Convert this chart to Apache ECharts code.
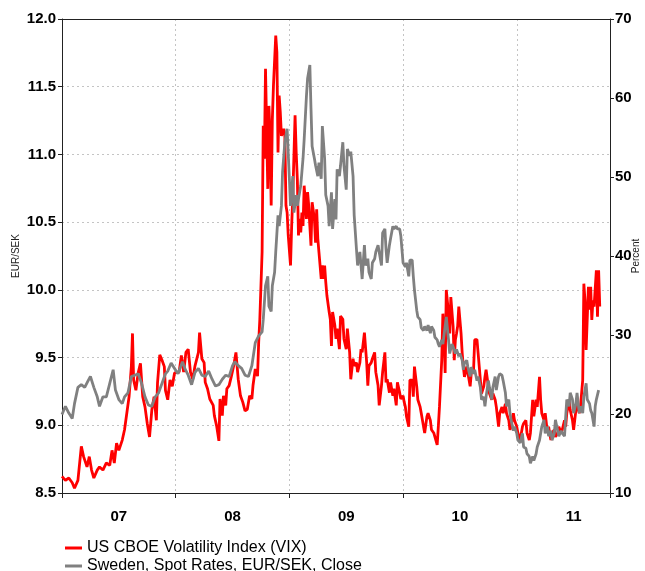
<!DOCTYPE html>
<html>
<head>
<meta charset="utf-8">
<script src="https://cdn.jsdelivr.net/npm/echarts@6/dist/echarts.min.js"></script>
<style>
html,body{margin:0;padding:0;background:#fff;overflow:hidden;}
#chart{width:645px;height:571px;}
</style>
</head>
<body>
<div id="chart"></div>
<script>
// EUR/SEK close (left axis), dates in decimal years
var sekDates = [2007.00,2007.03,2007.06,2007.09,2007.11,2007.14,2007.17,2007.20,2007.23,2007.25,2007.28,2007.31,2007.33,2007.36,2007.39,2007.42,2007.45,2007.47,2007.50,2007.53,2007.55,2007.58,2007.61,2007.64,2007.67,2007.70,2007.73,2007.76,2007.79,2007.82,2007.85,2007.88,2007.91,2007.93,2007.96,2007.99,
2008.02,2008.06,2008.08,2008.11,2008.14,2008.17,2008.20,2008.23,2008.26,2008.29,2008.32,2008.35,2008.38,2008.41,2008.44,2008.47,2008.50,2008.52,2008.55,2008.58,2008.61,2008.64,2008.67,2008.70,2008.73,2008.76,2008.77,2008.79,2008.81,2008.82,2008.84,2008.85,2008.87,2008.88,2008.90,2008.91,2008.93,2008.94,2008.96,2008.98,
2009.00,2009.01,2009.03,2009.04,2009.06,2009.07,2009.09,2009.10,2009.12,2009.13,2009.15,2009.16,2009.18,2009.19,2009.20,2009.22,2009.23,2009.25,2009.26,2009.28,2009.29,2009.31,2009.32,2009.34,2009.35,2009.37,2009.38,2009.40,2009.41,2009.42,2009.44,2009.45,2009.47,2009.48,2009.50,2009.51,2009.53,2009.54,2009.56,2009.57,2009.59,2009.60,2009.62,2009.63,2009.64,2009.66,2009.67,2009.69,2009.70,2009.72,2009.73,2009.75,2009.76,2009.78,2009.79,2009.81,2009.82,2009.84,2009.85,2009.86,2009.88,2009.89,2009.91,2009.92,2009.94,2009.95,2009.97,2009.98,
2010.00,2010.02,2010.03,2010.05,2010.06,2010.08,2010.09,2010.10,2010.12,2010.13,2010.15,2010.16,2010.18,2010.19,2010.21,2010.22,2010.24,2010.25,2010.27,2010.28,2010.30,2010.31,2010.32,2010.34,2010.35,2010.37,2010.38,2010.40,2010.41,2010.43,2010.44,2010.46,2010.47,2010.49,2010.50,2010.52,2010.53,2010.54,2010.56,2010.57,2010.59,2010.60,2010.62,2010.63,2010.65,2010.66,2010.68,2010.69,2010.71,2010.72,2010.73,2010.75,2010.76,2010.78,2010.79,2010.81,2010.82,2010.84,2010.85,2010.87,2010.88,2010.90,2010.91,2010.93,2010.94,2010.95,2010.97,2010.98,
2011.00,2011.01,2011.03,2011.05,2011.06,2011.08,2011.09,2011.11,2011.12,2011.14,2011.15,2011.17,2011.18,2011.20,2011.21,2011.22,2011.24,2011.25,2011.27,2011.28,2011.30,2011.31,2011.33,2011.34,2011.36,2011.37,2011.39,2011.40,2011.42,2011.43,2011.44,2011.46,2011.47,2011.49,2011.50,2011.52,2011.53,2011.55,2011.56,2011.58,2011.59,2011.61,2011.62,2011.64,2011.65,2011.66,2011.68,2011.69,2011.70,2011.72];
var sekValues = [9.08,9.14,9.09,9.05,9.16,9.28,9.30,9.28,9.33,9.36,9.28,9.21,9.14,9.21,9.21,9.31,9.41,9.26,9.19,9.16,9.21,9.24,9.36,9.37,9.38,9.31,9.21,9.15,9.14,9.21,9.24,9.31,9.38,9.40,9.46,9.42,
9.38,9.47,9.42,9.37,9.30,9.39,9.42,9.37,9.36,9.40,9.34,9.29,9.30,9.34,9.37,9.36,9.44,9.47,9.44,9.42,9.37,9.36,9.44,9.61,9.66,9.69,9.78,10.03,10.10,9.88,9.84,10.03,10.13,10.28,10.55,10.47,10.62,10.87,11.09,11.19,
10.82,10.62,10.84,10.57,10.70,10.62,10.72,10.77,10.97,11.11,11.43,11.56,11.66,11.34,11.06,10.97,10.92,10.84,10.94,10.82,11.21,10.97,10.70,10.62,10.47,10.72,10.45,10.67,10.52,10.89,10.84,10.92,11.09,10.92,10.74,11.04,10.99,11.02,10.84,10.55,10.30,10.18,10.28,10.18,10.08,10.33,10.18,10.23,10.13,10.08,10.20,10.23,10.28,10.33,10.28,10.18,10.42,10.45,10.30,10.20,10.33,10.38,10.47,10.45,10.47,10.45,10.45,10.40,
10.20,10.17,10.20,10.10,10.22,10.22,10.10,10.00,9.85,9.80,9.78,9.72,9.70,9.73,9.70,9.74,9.68,9.73,9.70,9.65,9.63,9.60,9.58,9.63,9.60,9.73,9.80,9.63,9.53,9.60,9.58,9.53,9.56,9.51,9.53,9.48,9.41,9.46,9.48,9.43,9.36,9.43,9.38,9.41,9.33,9.36,9.28,9.19,9.21,9.14,9.21,9.33,9.28,9.19,9.28,9.36,9.26,9.36,9.38,9.37,9.33,9.24,9.14,9.19,9.09,9.04,8.96,8.99,
8.94,8.89,8.87,8.94,8.84,8.83,8.79,8.77,8.72,8.77,8.74,8.79,8.84,8.89,8.94,8.99,9.04,8.94,8.99,8.92,8.96,8.89,8.94,9.04,8.96,8.92,8.96,8.94,8.92,9.06,9.19,9.14,9.24,9.19,9.09,9.16,9.24,9.09,9.14,9.09,9.21,9.31,9.19,9.16,9.11,9.09,8.99,9.14,9.19,9.26];

// US CBOE Volatility Index (right axis, percent)
var vixDates = [2007.00,2007.03,2007.06,2007.09,2007.11,2007.14,2007.17,2007.19,2007.22,2007.24,2007.26,2007.28,2007.31,2007.33,2007.36,2007.39,2007.42,2007.44,2007.46,2007.48,2007.50,2007.53,2007.55,2007.57,2007.59,2007.61,2007.62,2007.63,2007.65,2007.67,2007.69,2007.71,2007.73,2007.75,2007.77,2007.79,2007.81,2007.83,2007.84,2007.86,2007.88,2007.90,2007.91,2007.93,2007.95,2007.97,2007.99,
2008.03,2008.05,2008.07,2008.09,2008.11,2008.13,2008.15,2008.17,2008.20,2008.21,2008.23,2008.25,2008.26,2008.28,2008.30,2008.33,2008.34,2008.36,2008.38,2008.39,2008.41,2008.42,2008.44,2008.45,2008.47,2008.49,2008.51,2008.53,2008.55,2008.57,2008.59,2008.61,2008.63,2008.65,2008.67,2008.68,2008.70,2008.72,2008.73,2008.74,2008.76,2008.77,2008.78,2008.79,2008.80,2008.81,2008.82,2008.83,2008.84,2008.85,2008.86,2008.88,2008.89,2008.90,2008.91,2008.92,2008.93,2008.95,2008.96,2008.97,2008.98,2008.99,
2009.01,2009.02,2009.03,2009.05,2009.06,2009.07,2009.08,2009.09,2009.10,2009.11,2009.12,2009.13,2009.15,2009.16,2009.17,2009.18,2009.19,2009.20,2009.22,2009.23,2009.24,2009.25,2009.26,2009.28,2009.29,2009.30,2009.31,2009.32,2009.33,2009.35,2009.36,2009.37,2009.38,2009.40,2009.41,2009.42,2009.44,2009.45,2009.47,2009.48,2009.50,2009.51,2009.53,2009.54,2009.56,2009.57,2009.59,2009.60,2009.62,2009.63,2009.64,2009.66,2009.68,2009.69,2009.70,2009.72,2009.73,2009.75,2009.76,2009.78,2009.79,2009.81,2009.82,2009.84,2009.85,2009.86,2009.88,2009.89,2009.91,2009.92,2009.94,2009.95,2009.97,2009.98,
2010.00,2010.01,2010.02,2010.03,2010.05,2010.06,2010.08,2010.09,2010.10,2010.12,2010.13,2010.15,2010.16,2010.18,2010.19,2010.21,2010.22,2010.24,2010.25,2010.27,2010.28,2010.30,2010.31,2010.32,2010.34,2010.35,2010.36,2010.37,2010.38,2010.40,2010.41,2010.42,2010.44,2010.45,2010.46,2010.47,2010.48,2010.49,2010.51,2010.52,2010.53,2010.54,2010.56,2010.57,2010.59,2010.60,2010.62,2010.63,2010.65,2010.66,2010.68,2010.69,2010.71,2010.72,2010.73,2010.75,2010.76,2010.78,2010.79,2010.81,2010.82,2010.84,2010.85,2010.87,2010.88,2010.90,2010.91,2010.93,2010.94,2010.95,2010.97,2010.98,
2011.00,2011.01,2011.03,2011.05,2011.06,2011.08,2011.09,2011.11,2011.12,2011.14,2011.15,2011.17,2011.18,2011.20,2011.21,2011.22,2011.24,2011.25,2011.27,2011.28,2011.30,2011.31,2011.33,2011.34,2011.36,2011.37,2011.39,2011.40,2011.42,2011.43,2011.44,2011.46,2011.47,2011.49,2011.50,2011.52,2011.53,2011.55,2011.56,2011.58,2011.585,2011.59,2011.60,2011.61,2011.63,2011.64,2011.65,2011.66,2011.67,2011.68,2011.70,2011.71,2011.72,2011.73];
var vixValues = [12.1,11.6,11.9,11.3,10.6,11.6,15.9,14.6,13.3,14.6,12.9,11.9,12.9,13.3,12.9,13.8,13.5,15.4,13.8,16.3,15.4,16.7,18.0,20.1,22.2,26.0,30.2,24.3,23.0,25.2,26.4,22.2,20.9,18.8,17.1,20.5,22.2,19.2,23.9,27.5,26.8,26.0,23.0,21.8,24.3,23.5,25.2,
25.3,27.4,25.3,27.8,28.2,25.3,24.4,26.1,27.8,30.3,27.0,26.5,24.0,23.2,21.9,21.1,19.8,18.5,16.6,21.9,19.8,22.3,21.1,23.2,23.6,24.8,26.1,27.8,24.4,22.3,21.5,20.4,20.6,22.3,21.9,23.6,25.7,24.8,29.1,32.0,40.5,56.5,52.3,63.7,56.1,48.5,59.0,55.2,46.4,57.3,61.6,67.9,65.8,53.1,60.3,58.2,55.2,56.1,55.2,46.4,45.5,42.6,
38.8,43.8,47.6,57.8,53.1,49.7,42.6,44.7,43.0,45.5,43.8,48.9,44.7,48.1,46.4,43.8,41.3,46.8,44.7,41.7,45.9,42.2,40.5,37.1,38.8,37.1,38.8,36.7,35.0,32.9,32.0,28.6,32.9,31.2,29.5,30.8,28.2,32.4,32.0,29.5,28.2,30.8,27.8,24.4,27.0,26.1,26.5,25.3,26.5,28.2,27.8,30.3,26.5,23.6,26.1,26.5,27.0,27.8,25.3,23.6,21.1,23.6,25.3,27.8,24.0,24.4,22.7,24.0,22.3,23.2,21.1,24.0,22.7,21.9,
22.3,21.5,20.9,19.7,18.4,24.3,24.3,22.2,26.0,23.5,21.8,20.9,20.1,18.4,17.6,19.7,20.1,19.2,18.0,17.6,17.1,16.1,18.4,20.9,26.8,32.7,30.2,25.2,35.7,32.7,30.2,34.8,31.1,26.8,29.4,30.2,31.1,33.6,30.2,27.7,26.0,24.7,26.0,25.2,23.5,25.2,25.6,29.4,29.4,27.7,24.3,22.6,23.5,24.7,25.6,23.5,22.6,21.8,22.6,21.8,20.9,18.4,20.1,20.9,20.1,21.3,20.1,19.2,18.0,18.4,20.1,19.2,
18.4,17.6,16.7,18.4,18.8,19.2,17.6,16.7,17.6,21.8,19.7,21.8,20.9,24.7,21.8,20.1,19.2,20.1,17.6,18.4,16.7,17.6,18.0,17.1,17.6,18.4,17.6,18.0,19.2,18.4,20.1,21.8,20.5,19.2,18.0,20.5,21.3,20.1,20.9,24.3,30.2,36.5,34.4,28.1,36.1,33.2,36.1,31.9,34.4,33.6,38.2,32.3,38.2,33.6];

var yearLabels = ['07','08','09','10','11'];
var leftTicks = {min: 8.5, max: 12.0, interval: 0.5};
var rightTicks = {min: 10, max: 70, interval: 10};
var xRange = {min: 2007, max: 2011.82};

function pairs(d, v){ return d.map(function(x,i){ return [x, v[i]]; }); }

var font = "'Liberation Sans', Arial, sans-serif";
var axisColor = '#222';
var gridColor = '#c4c4c4';
var chart = echarts.init(document.getElementById('chart'), null, {renderer:'canvas'});

function legendOf(name, top){
  return {
    orient: 'horizontal', left: 65, top: top, padding: 0, itemGap: 4, itemWidth: 17, itemHeight: 3,
    icon: 'rect',
    textStyle: {fontFamily: font, fontSize: 16, color: '#000'},
    data: [{name: name}]
  };
}

chart.setOption({
  animation: false,
  backgroundColor: '#ffffff',
  textStyle: {fontFamily: font},
  grid: {left: 62, right: 35, top: 19, bottom: 78, show: false, containLabel: false, outerBoundsMode: 'none'},
  legend: [legendOf('US CBOE Volatility Index (VIX)', 540), legendOf('Sweden, Spot Rates, EUR/SEK, Close', 558)],
  xAxis: [{
    type: 'value', min: xRange.min, max: xRange.max, interval: 1, position: 'bottom',
    axisLine: {show: true, onZero: false, lineStyle: {color: axisColor, width: 1}},
    axisTick: {show: true, length: 5, lineStyle: {color: axisColor}},
    axisLabel: {show: false},
    splitLine: {show: true, lineStyle: {color: gridColor, type: [2, 3], width: 1}}
  }, {
    type: 'value', min: xRange.min, max: xRange.max, interval: 0.5, position: 'bottom',
    axisLine: {show: false}, axisTick: {show: false}, splitLine: {show: false},
    axisLabel: {
      show: true, margin: 16, fontSize: 15, fontWeight: 'bold', color: '#000', fontFamily: font,
      showMinLabel: true, showMaxLabel: true, hideOverlap: false,
      formatter: function(v){
        var f = v - Math.floor(v);
        if (Math.abs(f - 0.5) > 1e-6) return '';
        var lab = yearLabels[Math.floor(v) - xRange.min];
        return lab || '';
      }
    }
  }, {
    type: 'value', min: xRange.min, max: xRange.max, position: 'top',
    axisLine: {show: true, onZero: false, lineStyle: {color: axisColor, width: 1}},
    axisTick: {show: false}, axisLabel: {show: false}, splitLine: {show: false}
  }],
  yAxis: [{
    type: 'value', position: 'left', min: leftTicks.min, max: leftTicks.max, interval: leftTicks.interval,
    name: 'EUR/SEK', nameLocation: 'middle', nameGap: 41, nameRotate: 90, nameMoveOverlap: false,
    nameTextStyle: {fontSize: 10, color: axisColor, fontFamily: font},
    axisLine: {show: true, lineStyle: {color: axisColor, width: 1}},
    axisTick: {show: true, length: 4, lineStyle: {color: axisColor}},
    axisLabel: {margin: 6, fontSize: 15, fontWeight: 'bold', color: '#000', fontFamily: font,
      formatter: function(v){ return v.toFixed(1); }},
    splitLine: {show: true, lineStyle: {color: gridColor, type: [2, 3], width: 1}}
  }, {
    type: 'value', position: 'right', min: rightTicks.min, max: rightTicks.max, interval: rightTicks.interval,
    name: 'Percent', nameLocation: 'middle', nameGap: 21, nameRotate: 90, nameMoveOverlap: false,
    nameTextStyle: {fontSize: 10, color: axisColor, fontFamily: font},
    axisLine: {show: true, lineStyle: {color: axisColor, width: 1}},
    axisTick: {show: true, length: 4, lineStyle: {color: axisColor}},
    axisLabel: {margin: 5, fontSize: 15, fontWeight: 'bold', color: '#000', fontFamily: font},
    splitLine: {show: false}
  }],
  series: [{
    name: 'US CBOE Volatility Index (VIX)', type: 'line', xAxisIndex: 0, yAxisIndex: 1,
    data: pairs(vixDates, vixValues), symbol: 'none', showSymbol: false,
    lineStyle: {color: '#ff0000', width: 2.8}, itemStyle: {color: '#ff0000'}
  }, {
    name: 'Sweden, Spot Rates, EUR/SEK, Close', type: 'line', xAxisIndex: 0, yAxisIndex: 0,
    data: pairs(sekDates, sekValues), symbol: 'none', showSymbol: false,
    lineStyle: {color: '#808080', width: 2.8}, itemStyle: {color: '#808080'}
  }]
});
</script>
</body>
</html>
